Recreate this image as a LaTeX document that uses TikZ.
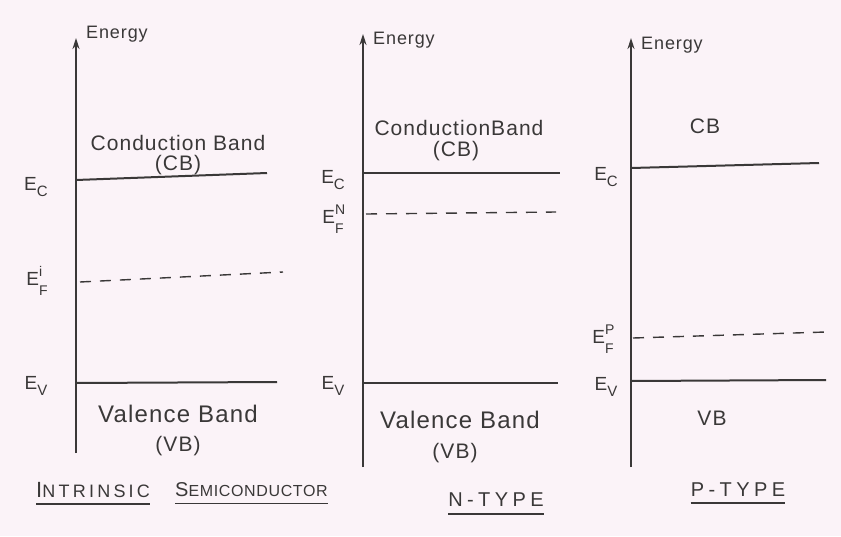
\documentclass[tikz,border=0pt]{standalone}
\usepackage{fontspec}
\setmainfont{Liberation Sans}[LetterSpace=5]
\newfontfamily\capsfont{Liberation Sans}[LetterSpace=18]
\newfontfamily\capsnarrow{Liberation Sans}[LetterSpace=4]
\newfontfamily\capswide{Liberation Sans}[LetterSpace=22]
\usetikzlibrary{arrows.meta}
\definecolor{bgpink}{HTML}{FBF3F8}
\definecolor{inkc}{HTML}{3A3838}
\tikzset{
  axisline/.style={draw=inkc, line width=1.7pt, -{Stealth[length=11pt,width=7pt]}},
  bandline/.style={draw=inkc, line width=2pt},
  fermiline/.style={draw=inkc, line width=1.4pt, dash pattern=on 11pt off 9pt},
  underl/.style={draw=inkc, line width=1.5pt},
  txt/.style={text=inkc, inner sep=0pt, font=\fontsize{21}{24}\selectfont},
  bigtxt/.style={text=inkc, inner sep=0pt, font=\fontsize{24}{26}\selectfont},
  smalltxt/.style={text=inkc, inner sep=0pt, font=\fontsize{18}{20}\selectfont},
  lvl/.style={text=inkc, inner sep=0pt, font=\fontsize{19}{20}\selectfont},
  ttl/.style={text=inkc, inner sep=0pt, font=\capsfont\fontsize{18}{20}\selectfont},
  ttlnarrow/.style={text=inkc, inner sep=0pt, font=\capsnarrow\fontsize{16}{18}\selectfont},
  ttlwide/.style={text=inkc, inner sep=0pt, font=\capswide\fontsize{20}{22}\selectfont},
}
\newcommand{\lvlSub}[1]{E\raisebox{-6pt}{\fontsize{15}{15}\selectfont #1}}
\newcommand{\lvlSubSup}[2]{E\rlap{\raisebox{9pt}{\fontsize{14}{14}\selectfont #2}}\raisebox{-10pt}{\fontsize{14}{14}\selectfont #1}}
\begin{document}
\begin{tikzpicture}[x=1pt,y=-1pt]
\fill[bgpink] (0,0) rectangle (841,536);
\useasboundingbox (0,0) rectangle (841,536);

% ---------- Panel 1: intrinsic ----------
\coordinate (a1b) at (76,453);
\coordinate (a1t) at (76,38);
\draw[axisline] (a1b) -- (a1t);
\node[smalltxt, anchor=west] (en1) at (86,34) {Energy};
\coordinate (c1l) at (76,180);  \coordinate (c1r) at (267,173);
\coordinate (f1l) at (80,282);  \coordinate (f1r) at (283,272);
\coordinate (v1l) at (76,383);  \coordinate (v1r) at (277,382);
\draw[bandline] (c1l) -- (c1r);
\draw[fermiline] (f1l) -- (f1r);
\draw[bandline] (v1l) -- (v1r);
\node[txt] (cb1) at (178,143) {Conduction Band};
\node[txt] (cb1b) at (178,165) {(CB)};
\node[bigtxt] (vb1) at (178,414) {Valence Band};
\node[txt] (vb1b) at (178,446) {(VB)};
\node[lvl] (ec1) at (36,187) {\lvlSub{C}};
\node[lvl] (ef1) at (37,281) {\lvlSubSup{F}{i}};
\node[lvl] (ev1) at (36,386) {\lvlSub{V}};
\node[ttl, anchor=west] (intr) at (36,490) {{\fontsize{22}{22}\selectfont I}NTRINSIC};
\node[ttlnarrow, anchor=west] (semi) at (175,490) {{\fontsize{20}{20}\selectfont S}EMICONDUCTOR};
\draw[underl] ([yshift=-6pt]intr.south west) -- ([yshift=-6pt]intr.south east);
\draw[underl] ([yshift=-6pt]semi.south west) -- ([yshift=-6pt]semi.south east);

% ---------- Panel 2: N-type ----------
\coordinate (a2b) at (363,467);
\coordinate (a2t) at (363,34);
\draw[axisline] (a2b) -- (a2t);
\node[smalltxt, anchor=west] (en2) at (373,40) {Energy};
\coordinate (c2l) at (363,173);  \coordinate (c2r) at (560,173);
\coordinate (f2l) at (366,214);  \coordinate (f2r) at (556,212);
\coordinate (v2l) at (363,383);  \coordinate (v2r) at (558,383);
\draw[bandline] (c2l) -- (c2r);
\draw[fermiline] (f2l) -- (f2r);
\draw[bandline] (v2l) -- (v2r);
\node[txt] (cb2) at (459,128) {ConductionBand};
\node[txt] (cb2b) at (456,151) {(CB)};
\node[bigtxt] (vb2) at (460,420) {Valence Band};
\node[txt] (vb2b) at (455,453) {(VB)};
\node[lvl] (ec2) at (333,180) {\lvlSub{C}};
\node[lvl] (ef2) at (333,219) {\lvlSubSup{F}{N}};
\node[lvl] (ev2) at (333,386) {\lvlSub{V}};
\node[ttlwide] (ntype) at (496,500) {N-TYPE};
\draw[underl] ([yshift=-7pt]ntype.south west) -- ([yshift=-7pt]ntype.south east);

% ---------- Panel 3: P-type ----------
\coordinate (a3b) at (631,467);
\coordinate (a3t) at (631,38);
\draw[axisline] (a3b) -- (a3t);
\node[smalltxt, anchor=west] (en3) at (641,45) {Energy};
\node[txt] (cb3) at (705,126) {CB};
\coordinate (c3l) at (631,168);  \coordinate (c3r) at (819,163);
\coordinate (f3l) at (633,338);  \coordinate (f3r) at (826,332);
\coordinate (v3l) at (631,381);  \coordinate (v3r) at (826,380);
\draw[bandline] (c3l) -- (c3r);
\draw[fermiline] (f3l) -- (f3r);
\draw[bandline] (v3l) -- (v3r);
\node[txt] (vb3) at (712,418) {VB};
\node[lvl] (ec3) at (606,177) {\lvlSub{C}};
\node[lvl] (ef3) at (603,339) {\lvlSubSup{F}{P}};
\node[lvl] (ev3) at (606,387) {\lvlSub{V}};
\node[ttlwide] (ptype) at (738,490) {P-TYPE};
\draw[underl] ([yshift=-6pt]ptype.south west) -- ([yshift=-6pt]ptype.south east);
\end{tikzpicture}
\end{document}
